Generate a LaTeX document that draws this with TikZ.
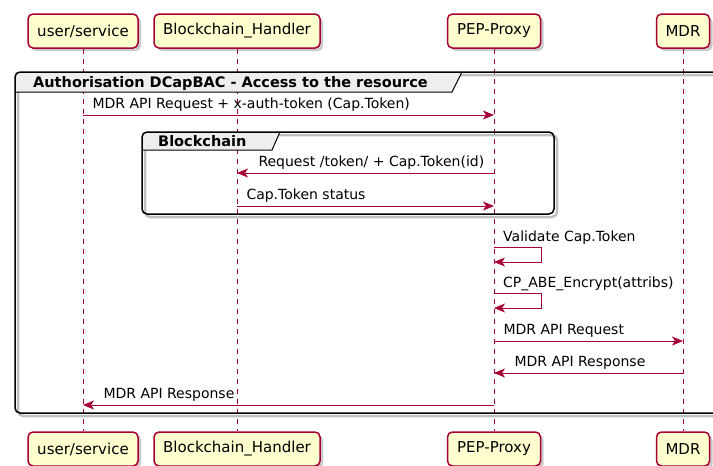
\documentclass[tikz,border=0pt]{standalone}
\usepackage{fontspec}
\setmainfont{DejaVu Sans}
\usetikzlibrary{arrows.meta,shadows}

\definecolor{umlred}{HTML}{A80036}
\definecolor{umlyellow}{HTML}{FEFECE}
\definecolor{tabgray}{HTML}{EEEEEE}

\tikzset{
  actor/.style={draw=umlred, fill=umlyellow, line width=1.5pt, rounded corners=5pt,
    minimum height=34pt, inner xsep=7pt, font=\fontsize{15}{18}\selectfont,
    drop shadow={shadow xshift=3pt, shadow yshift=-3pt, opacity=.3, fill=black!70}},
  lifeline/.style={draw=umlred, dash pattern=on 5pt off 5pt, line width=.9pt},
  msg/.style={draw=umlred, line width=1pt, -{Stealth[length=11pt,width=9pt,inset=3pt]}},
  msgtext/.style={font=\fontsize{14}{16}\selectfont, inner sep=0pt, anchor=base west},
  grouptitle/.style={font=\bfseries\fontsize{14.5}{16}\selectfont, inner sep=0pt, anchor=base west},
  groupframe/.style={draw=black, line width=1.5pt, rounded corners=5pt},
  groupshadow/.style={draw=black!25, line width=2.5pt, rounded corners=5pt},
}

\begin{document}
\begin{tikzpicture}[x=1pt,y=-1pt]
  \useasboundingbox (0,0) rectangle (713,466);
  \clip (0,0) rectangle (713,466);

  % participants, top and bottom
  \node[actor, minimum width=110pt] (user) at (83,31) {user/service};
  \node[actor, minimum width=166pt] (bch) at (237,31) {Blockchain\_Handler};
  \node[actor, minimum width=93pt] (pep) at (494,31) {PEP-Proxy};
  \node[actor, minimum width=53pt] (mdr) at (683,31) {MDR};
  \node[actor, minimum width=110pt] (userB) at (83,449) {user/service};
  \node[actor, minimum width=166pt] (bchB) at (237,449) {Blockchain\_Handler};
  \node[actor, minimum width=93pt] (pepB) at (494,449) {PEP-Proxy};
  \node[actor, minimum width=53pt] (mdrB) at (683,449) {MDR};

  \foreach \p in {user,bch,pep,mdr}
    \draw[lifeline] (\p) -- (\p B);

  % outer group
  \draw[groupshadow] (18,75) rectangle (728,416);
  \fill[tabgray] (15,92) [rounded corners=5pt]-- (15,72) [sharp corners]-- (462,72) -- (452,92) -- cycle;
  \draw[line width=1pt] (15,92) -- (452,92) -- (462,72);
  \draw[groupframe] (15,72) rectangle (725,413);
  \node[grouptitle] (outertitle) at (33,87) {Authorisation DCapBAC - Access to the resource};

  \draw[msg] (user |- 0,115) -- (pep |- 0,115)
    node[msgtext, pos=0, xshift=9pt, yshift=7pt] {MDR API Request + x-auth-token (Cap.Token)};

  % blockchain group
  \draw[groupshadow] (145,135) rectangle (557,217);
  \fill[tabgray] (142,150) [rounded corners=5pt]-- (142,132) [sharp corners]-- (280,132) -- (272,150) -- cycle;
  \draw[line width=1pt] (142,150) -- (272,150) -- (280,132);
  \draw[groupframe] (142,132) rectangle (554,214);
  \node[grouptitle] (bctitle) at (158,146.5) {Blockchain};

  \draw[msg] (pep |- 0,173) -- (bch |- 0,173)
    node[msgtext, pos=1, xshift=21pt, yshift=7pt] {Request /token/ + Cap.Token(id)};
  \draw[msg] (bch |- 0,206) -- (pep |- 0,206)
    node[msgtext, pos=0, xshift=9pt, yshift=7pt] {Cap.Token status};

  % self calls on the proxy
  \draw[msg] (pep |- 0,247) -- ++(47,0) -- ++(0,15) -- (pep |- 0,262);
  \node[msgtext] (validate) at (503,241) {Validate Cap.Token};
  \draw[msg] (pep |- 0,293) -- ++(47,0) -- ++(0,15) -- (pep |- 0,308);
  \node[msgtext] (encrypt) at (503,287) {CP\_ABE\_Encrypt(attribs)};

  \draw[msg] (pep |- 0,341) -- (mdr |- 0,341)
    node[msgtext, pos=0, xshift=9pt, yshift=7pt] {MDR API Request};
  \draw[msg] (mdr |- 0,373) -- (pep |- 0,373)
    node[msgtext, pos=1, xshift=20pt, yshift=7pt] {MDR API Response};
  \draw[msg] (pep |- 0,405) -- (user |- 0,405)
    node[msgtext, pos=1, xshift=20pt, yshift=7pt] {MDR API Response};
\end{tikzpicture}
\end{document}
